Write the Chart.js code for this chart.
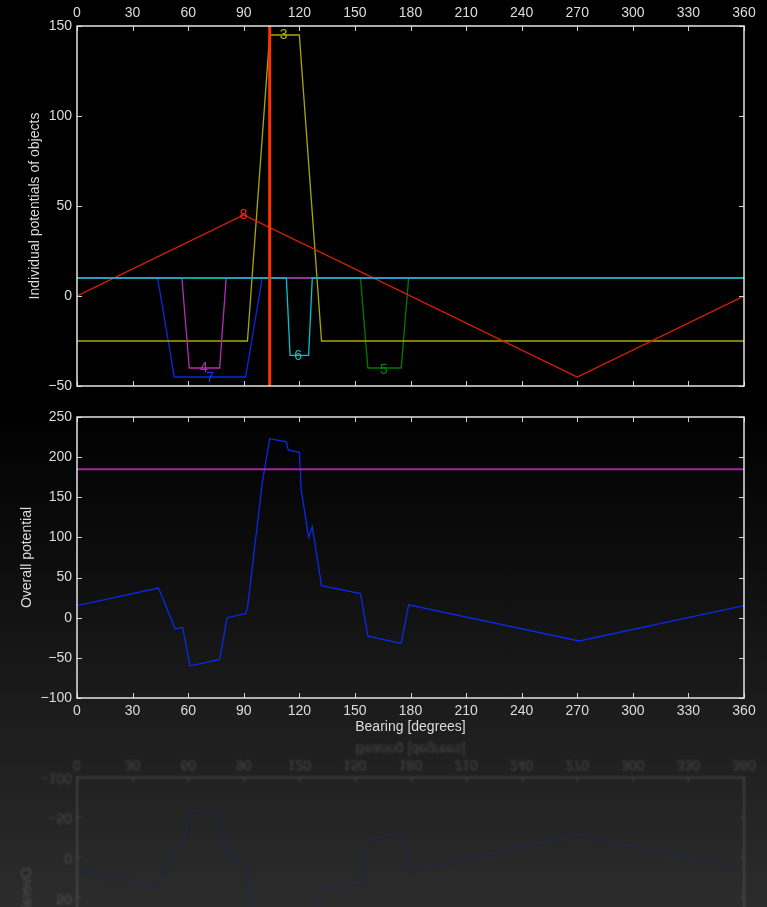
<!DOCTYPE html>
<html><head><meta charset="utf-8">
<script src="https://cdn.jsdelivr.net/npm/chart.js@4.4.1/dist/chart.umd.min.js"></script>
<style>
html,body{margin:0;padding:0;width:767px;height:907px;overflow:hidden;}
body{background:linear-gradient(to bottom,#000 0px,#000 400px,#0d0d0d 560px,#1b1b1b 700px,#2c2c2c 907px);position:relative;}
canvas{position:absolute;left:0;}
#c1{top:0}
#c2{top:400px}
#c3{top:400px;transform-origin:0 337.8px;transform:scaleY(-1);opacity:.2;filter:blur(1.3px);}
</style></head><body>
<canvas id="c1" width="767" height="400"></canvas>
<canvas id="c2" width="767" height="337"></canvas>
<canvas id="c3" width="767" height="337"></canvas>
<script>
// ---- data ----
const bearingTicks = [0,30,60,90,120,150,180,210,240,270,300,330,360];
const topYTicks = [-50,0,50,100,150];
const bottomYTicks = [-100,-50,0,50,100,150,200,250];

const obj3X = [0,92,104,120,132,360];
const obj3Y = [-25,-25,145,145,-25,-25];
const obj4X = [0,56.6,60.6,77,80.5,360];
const obj4Y = [10,10,-40,-40,10,10];
const obj5X = [0,153,157,175,179,360];
const obj5Y = [10,10,-40,-40,10,10];
const obj6X = [0,113,115,125,127,360];
const obj6Y = [10,10,-33,-33,10,10];
const obj7X = [0,43.5,52.5,91,100,360];
const obj7Y = [10,10,-45,-45,10,10];
const obj8X = [0,90,270,360];
const obj8Y = [0,45,-45,0];
const headingX = [104,104];
const headingY = [-50,150];

const labelTexts = ['3','8','4','7','6','5'];
const labelX = [111.5,90,68.5,71.8,119.3,165.7];
const labelY = [145,45,-40,-45.5,-33.3,-41];

const overallX = [0,44,53,57,61,77,81,91,92,100,104,113,114,120,121,125,127,132,153,157,175,179,271,360];
const overallY = [15,37,-14,-12,-60,-52,0,5,12,168,223,219,209,206,160,100,113,40,30,-23,-32,16,-29,15];
const thresholdX = [0,360];
const thresholdY = [185,185];

// ---- helpers ----
const pts = (xs,ys)=>xs.map((x,i)=>({x:x,y:ys[i]}));
const FONT = {family:"'Liberation Sans', Helvetica, Arial, sans-serif", size:14};
const TXT = '#dcdcdc';
const fmt = v => String(v).replace('-','\u2212');
const line = (label,xs,ys,color,w)=>({label,data:pts(xs,ys),borderColor:color,borderWidth:w,pointRadius:0,fill:false,tension:0});

const frameTicks = {
  id:'frameTicks',
  afterDatasetsDraw(chart){
    const {ctx, chartArea:a, scales} = chart;
    ctx.save();
    ctx.strokeStyle='#d0d0d0'; ctx.lineWidth=1;
    const len=5;
    scales.x.ticks.forEach(t=>{
      const p=Math.round(scales.x.getPixelForValue(t.value))+0.5;
      ctx.beginPath(); ctx.moveTo(p,a.top); ctx.lineTo(p,a.top+len);
      ctx.moveTo(p,a.bottom); ctx.lineTo(p,a.bottom-len); ctx.stroke();
    });
    scales.y.ticks.forEach(t=>{
      const p=Math.round(scales.y.getPixelForValue(t.value))+0.5;
      ctx.beginPath(); ctx.moveTo(a.left,p); ctx.lineTo(a.left+len,p);
      ctx.moveTo(a.right,p); ctx.lineTo(a.right-len,p); ctx.stroke();
    });
    ctx.strokeStyle='#e4e4e4'; ctx.lineWidth=1.5;
    ctx.strokeRect(a.left,a.top,a.right-a.left,a.bottom-a.top);
    ctx.restore();
  }
};

const objLabels = {
  id:'objLabels',
  afterDraw(chart){
    const {ctx, scales} = chart;
    const cols = ['#b0b000','#ff2a00','#b52cb5','#1a3cff','#00c4cc','#008a00'];
    ctx.save();
    ctx.font = "14px 'Liberation Sans', Helvetica, Arial, sans-serif";
    ctx.textAlign='center'; ctx.textBaseline='middle';
    labelTexts.forEach((t,i)=>{
      ctx.fillStyle=cols[i];
      ctx.fillText(t, scales.x.getPixelForValue(labelX[i]), scales.y.getPixelForValue(labelY[i]));
    });
    ctx.restore();
  }
};

const common = {
  responsive:false, animation:false, devicePixelRatio:1,
  plugins:{legend:{display:false}, tooltip:{enabled:false}},
  elements:{line:{borderCapStyle:'butt'}}
};

// ---- top chart ----
new Chart(document.getElementById('c1'),{
  type:'line',
  data:{datasets:[
    line('heading',headingX,headingY,'#ff3300',3),
    line('6',obj6X,obj6Y,'#00c4cc',1.3),
    line('4',obj4X,obj4Y,'#b52cb5',1.3),
    line('8',obj8X,obj8Y,'#e62000',1.2),
    line('3',obj3X,obj3Y,'#a8a800',1.3),
    line('5',obj5X,obj5Y,'#007a00',1.3),
    line('7',obj7X,obj7Y,'#0a28e0',1.3)
  ]},
  options:Object.assign({},common,{
    layout:{padding:{top:0,right:23,bottom:14,left:0}},
    scales:{
      x:{type:'linear',position:'top',min:0,max:360,
        afterBuildTicks:s=>{s.ticks=bearingTicks.map(v=>({value:v}));},
        afterFit:s=>{s.height=26;},
        grid:{display:false,drawTicks:false},border:{display:false},
        ticks:{color:TXT,font:FONT,padding:4,maxRotation:0,callback:fmt}},
      y:{type:'linear',min:-50,max:150,
        afterBuildTicks:s=>{s.ticks=topYTicks.map(v=>({value:v}));},
        afterFit:s=>{s.width=77;},
        grid:{display:false,drawTicks:false},border:{display:false},
        ticks:{color:TXT,font:FONT,padding:5,callback:fmt},
        title:{display:true,text:'Individual potentials of objects',color:TXT,font:FONT,padding:{top:27,bottom:0}}}
    }
  }),
  plugins:[frameTicks,objLabels]
});

// ---- bottom chart (and its reflection) ----
function bottomConfig(){
  return {
    type:'line',
    data:{datasets:[
      line('Threshold',thresholdX,thresholdY,'#a424a4',2),
      line('Overall potential',overallX,overallY,'#0a2ae6',1.3)
    ]},
    options:Object.assign({},common,{
      layout:{padding:{top:17,right:23,bottom:0,left:0}},
      scales:{
        x:{type:'linear',position:'bottom',min:0,max:360,
          afterBuildTicks:s=>{s.ticks=bearingTicks.map(v=>({value:v}));},
          afterFit:s=>{s.height=39;},
          grid:{display:false,drawTicks:false},border:{display:false},
          ticks:{color:TXT,font:FONT,padding:5,maxRotation:0,callback:fmt},
          title:{display:true,text:'Bearing [degrees]',color:TXT,font:FONT,padding:{top:0,bottom:1}}},
        y:{type:'linear',min:-100,max:250,
          afterBuildTicks:s=>{s.ticks=bottomYTicks.map(v=>({value:v}));},
          afterFit:s=>{s.width=77;},
          grid:{display:false,drawTicks:false},border:{display:false},
          ticks:{color:TXT,font:FONT,padding:5,callback:fmt},
          title:{display:true,text:'Overall potential',color:TXT,font:FONT,padding:{top:19,bottom:0}}}
      }
    }),
    plugins:[frameTicks]
  };
}
new Chart(document.getElementById('c2'),bottomConfig());
new Chart(document.getElementById('c3'),bottomConfig());
</script></body></html>
